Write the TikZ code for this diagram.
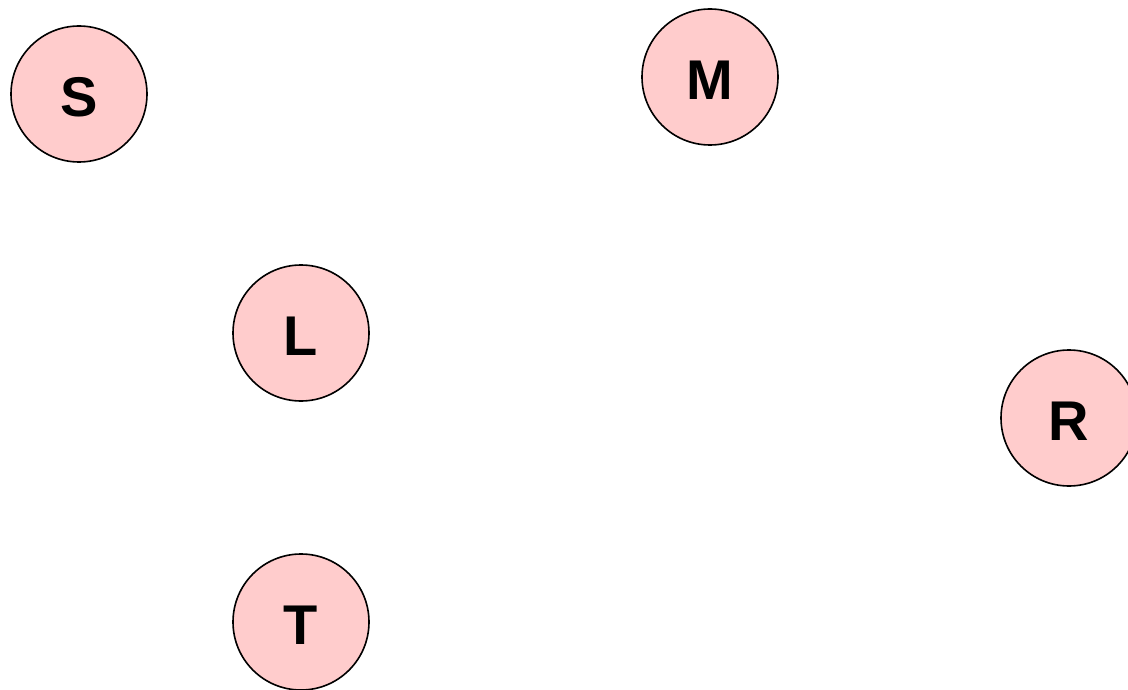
\documentclass[tikz,border=0pt]{standalone}
\usepackage{fontspec}
\setmainfont{Liberation Sans}
\definecolor{nodefill}{HTML}{FFCCCC}
\newcommand{\lowtext}[1]{\raisebox{-3pt}[\height][0pt]{#1}}
\tikzset{
  state/.style={circle, draw=black, line width=1.6pt, fill=nodefill, minimum size=136pt, inner sep=0pt,
    font=\fontsize{56}{60}\selectfont\bfseries}
}
\begin{document}
\begin{tikzpicture}[x=1pt,y=-1pt]
\useasboundingbox (0,0) rectangle (1128,690);
\node[state] (S) at (79,94) {\lowtext{S}};
\node[state] (M) at (710,77) {\lowtext{M}};
\node[state] (L) at (301,333) {\lowtext{L}};
\node[state] (R) at (1069,418) {\lowtext{R}};
\node[state] (T) at (301,622) {\lowtext{T}};
\end{tikzpicture}
\end{document}
